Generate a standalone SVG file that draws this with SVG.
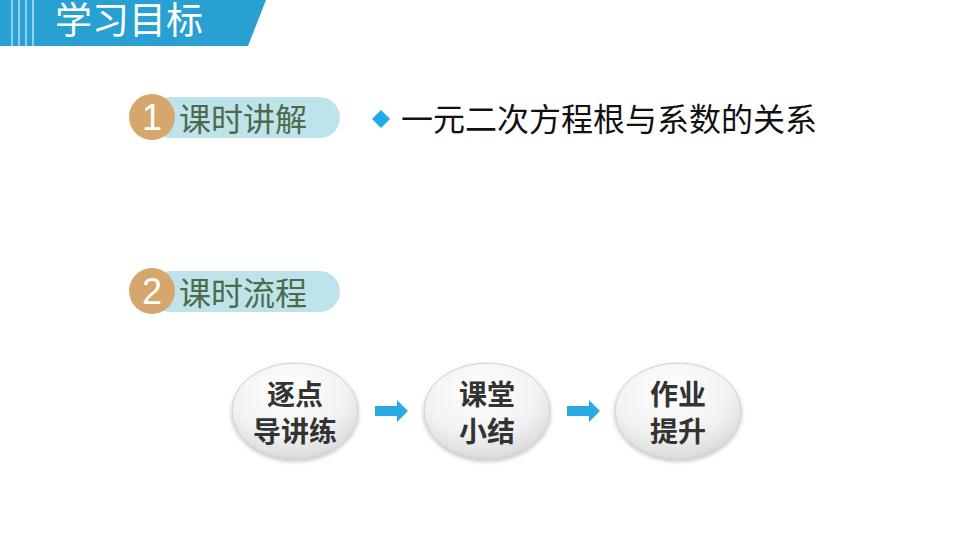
<svg xmlns="http://www.w3.org/2000/svg" width="960" height="540" viewBox="0 0 960 540">
<defs>
<radialGradient id="eg" cx="0.45" cy="0.3" r="0.75">
<stop offset="0" stop-color="#ffffff"/><stop offset="0.6" stop-color="#f2f2f2"/><stop offset="1" stop-color="#d6d6d6"/>
</radialGradient>
<filter id="sh" x="-20%" y="-20%" width="140%" height="150%"><feDropShadow dx="0" dy="2" stdDeviation="2" flood-opacity="0.25"/></filter>
</defs>
<style>
.cjk{font-family:"Noto Sans CJK SC","Noto Sans",sans-serif}
.pill{fill:#bfe3ea}
.badge{fill:#d5a76c}
.num{fill:#fff;font-size:36px;font-family:"Liberation Sans",sans-serif}
.ttl{fill:#4d6b4a;font-size:32px}
.node{fill:url(#eg);stroke:#d0d0d0;stroke-width:1;filter:url(#sh)}
.nt{font-size:28px;font-weight:bold;fill:#333;text-anchor:middle}
.arr{fill:#29a9e6}
</style>
<rect width="960" height="540" fill="#fff"/>
<g id="header">
<polygon points="0,0 266,0 248,46 0,46" fill="#28a0d2"/>
<g stroke="#fff" stroke-width="1">
<line x1="12" y1="0" x2="12" y2="46"/><line x1="19" y1="0" x2="19" y2="46"/><line x1="26" y1="0" x2="26" y2="46"/><line x1="33" y1="0" x2="33" y2="46"/>
</g>
<text x="55" y="34" class="cjk" font-size="37" fill="#fff">学习目标</text>
</g>
<g id="sec1">
<rect x="150" y="97" width="190" height="41" rx="20.5" class="pill"/>
<circle cx="152" cy="117" r="23" class="badge"/>
<text x="152" y="130" class="num" text-anchor="middle">1</text>
<text x="179" y="131" class="cjk ttl">课时讲解</text>
</g>
<g id="goal">
<polygon points="381,110 390,119 381,128 372,119" fill="#1aaee8"/>
<text x="401" y="131" class="cjk" font-size="32" fill="#111">一元二次方程根与系数的关系</text>
</g>
<g id="sec2">
<rect x="150" y="271" width="190" height="41" rx="20.5" class="pill"/>
<circle cx="152" cy="291" r="23" class="badge"/>
<text x="152" y="304" class="num" text-anchor="middle">2</text>
<text x="179" y="305" class="cjk ttl">课时流程</text>
</g>
<g id="n1"><ellipse cx="295" cy="411" rx="63" ry="48" class="node"/>
<text x="295" y="405" class="cjk nt">逐点</text><text x="295" y="442" class="cjk nt">导讲练</text></g>
<g id="n2"><ellipse cx="487" cy="411" rx="63" ry="48" class="node"/>
<text x="487" y="405" class="cjk nt">课堂</text><text x="487" y="442" class="cjk nt">小结</text></g>
<g id="n3"><ellipse cx="678" cy="411" rx="63" ry="48" class="node"/>
<text x="678" y="405" class="cjk nt">作业</text><text x="678" y="442" class="cjk nt">提升</text></g>
<g id="connectors">
<polygon class="arr" points="375,406 397,406 397,400 408,411 397,422 397,416 375,416"/>
<polygon class="arr" points="567,406 589,406 589,400 600,411 589,422 589,416 567,416"/>
</g>
</svg>
